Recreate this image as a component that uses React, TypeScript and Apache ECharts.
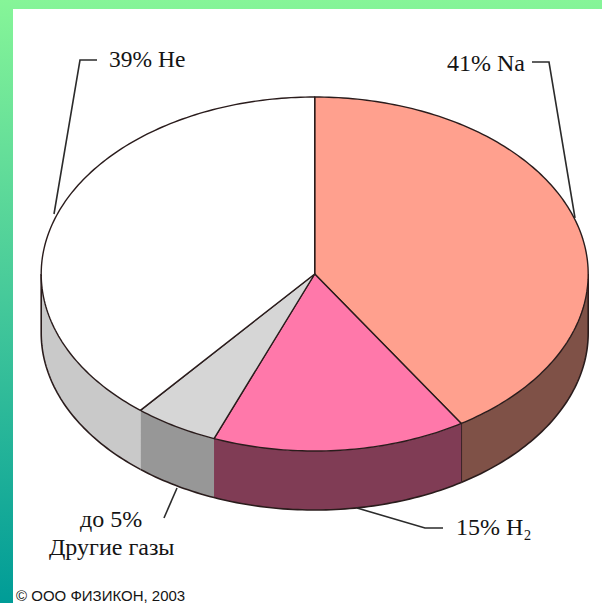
import React, { useEffect, useRef } from "react";
import * as echarts from "echarts";

// Gas composition shares, listed clockwise from twelve o'clock
const gases = ["Na", "H2", "Другие газы", "He"];
const shares = [41, 15, 5, 39];
const topColors = ["#ffa08e", "#ff78aa", "#d6d6d6", "#ffffff"];
const wallColors = ["#7f5147", "#803c55", "#979797", "#c9c9c9"];

const WIDTH = 602;
const HEIGHT = 603;
const CX = 314.7;
const CY = 274;
const RX = 273.5;
const RY = 177;
const DEPTH = 59;
const OUTLINE = "#2a1c1c";
const serif = "'Liberation Serif', 'Times New Roman', serif";

const toRad = (deg: number) => (deg * Math.PI) / 180;
// Angle is measured clockwise from the top of the ellipse
const rim = (deg: number, drop = 0): number[] => [
  CX + RX * Math.sin(toRad(deg)),
  CY - RY * Math.cos(toRad(deg)) + drop,
];
const arc = (from: number, to: number, drop = 0): number[][] => {
  const pts: number[][] = [];
  const steps = Math.max(2, Math.ceil(Math.abs(to - from)));
  for (let i = 0; i <= steps; i++) pts.push(rim(from + ((to - from) * i) / steps, drop));
  return pts;
};

const total = shares.reduce((a, b) => a + b, 0);

function renderSlice(params: any, api: any) {
  const i = params.dataIndex;
  const before = shares.slice(0, i).reduce((a, b) => a + b, 0);
  const start = (before / total) * 360;
  const end = start + (api.value(0) / total) * 360;

  const children: any[] = [];
  // The wall is only visible along the front half of the disc
  const wallFrom = Math.max(start, 90);
  const wallTo = Math.min(end, 270);
  if (wallTo > wallFrom) {
    const upper = arc(wallFrom, wallTo);
    const lower = arc(wallFrom, wallTo, DEPTH);
    children.push({
      type: "polygon",
      shape: { points: [...upper, ...lower.slice().reverse()] },
      style: { fill: wallColors[i], stroke: "none" },
    });
    children.push({
      type: "polyline",
      shape: { points: lower },
      style: { fill: "none", stroke: OUTLINE, lineWidth: 1.6 },
    });
    const edges: number[] = [];
    if (gases[i] === "Na") edges.push(wallFrom, wallTo);
    if (gases[i] === "He") edges.push(wallTo);
    edges.forEach((deg) => {
      const a = rim(deg);
      const b = rim(deg, DEPTH);
      children.push({
        type: "line",
        shape: { x1: a[0], y1: a[1], x2: b[0], y2: b[1] },
        style: { stroke: OUTLINE, lineWidth: 1.6 },
      });
    });
  }
  children.push({
    type: "polygon",
    shape: { points: [[CX, CY], ...arc(start, end)] },
    style: { fill: topColors[i], stroke: OUTLINE, lineWidth: 1.4, lineJoin: "round" },
  });
  return { type: "group", children };
}

const leader = (points: number[][]) => ({
  type: "polyline",
  z: 10,
  shape: { points },
  style: { fill: "none", stroke: "#2b2b2b", lineWidth: 1.6 },
});

const caption = (text: string, x: number, y: number, size = 22, family = serif) => ({
  type: "text",
  z: 10,
  x,
  y,
  style: {
    text,
    font: `${size}px ${family}`,
    fill: "#141414",
    align: "left",
    verticalAlign: "middle",
  },
});

export default function App() {
  const ref = useRef<HTMLDivElement>(null);

  useEffect(() => {
    document.documentElement.style.overflow = "hidden";
    document.body.style.margin = "0";
    const chart = echarts.init(ref.current!, undefined, { renderer: "svg" });
    chart.setOption({
      animation: false,
      backgroundColor: new echarts.graphic.LinearGradient(0, 0, 0, 1, [
        { offset: 0, color: "#86f598" },
        { offset: 0.5, color: "#45c99a" },
        { offset: 1, color: "#009c97" },
      ]),
      graphic: [
        {
          type: "rect",
          z: -1,
          shape: { x: 13, y: 9, width: WIDTH - 13, height: HEIGHT - 9 },
          style: { fill: "#ffffff" },
        },
        leader([[97, 60], [80, 60], [54, 214]]),
        leader([[532, 62], [549, 62], [575, 218]]),
        leader([[443, 528], [425, 528], [357, 508]]),
        leader([[177, 488], [164, 518]]),
        caption("39% He", 109, 59, 23.5),
        caption("41% Na", 447, 63, 24),
        caption("15% H₂", 456, 527, 24),
        caption("до 5%", 80, 519, 24),
        caption("Другие газы", 49, 547, 24),
        caption("© ООО ФИЗИКОН, 2003", 16, 595, 15, "'Liberation Sans', Arial, sans-serif"),
      ],
      series: [
        {
          type: "custom",
          coordinateSystem: "none",
          silent: true,
          z: 2,
          renderItem: renderSlice,
          data: shares.map((value, i) => ({ name: gases[i], value: [value] })),
        },
      ],
    });
    return () => chart.dispose();
  }, []);

  return <div ref={ref} style={{ width: WIDTH, height: HEIGHT }} />;
}
